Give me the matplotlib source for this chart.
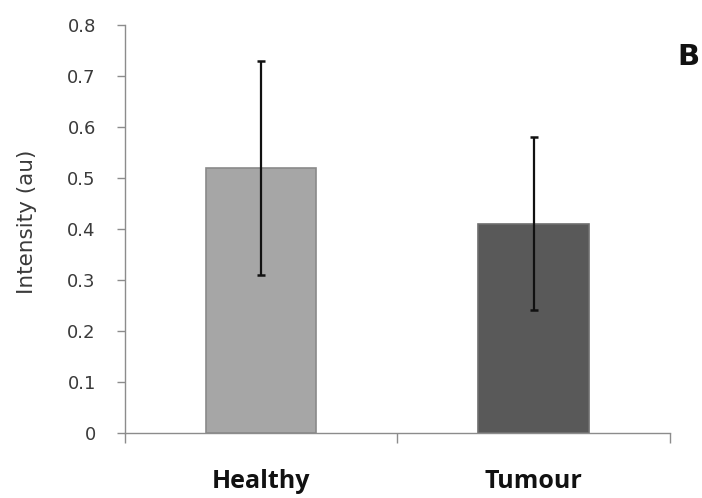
import matplotlib
matplotlib.use("Agg")
import matplotlib.pyplot as plt

groups = ["Healthy", "Tumour"]
means = [0.52, 0.41]
errors = [0.21, 0.17]
yticks = [0, 0.1, 0.2, 0.3, 0.4, 0.5, 0.6, 0.7, 0.8]

bar_colors = ["#a6a6a6", "#595959"]
edge_colors = ["#8a8a8a", "#6e6e6e"]
axis_grey = "#8c8c8c"
text_grey = "#3a3a3a"

plt.rcParams["font.family"] = ["DejaVu Sans"]

fig = plt.figure(figsize=(7.02, 4.98), dpi=100)
ax = fig.add_axes([0.178, 0.131, 0.776, 0.819])

xs = list(range(len(groups)))
ax.bar(xs, means, width=0.405, color=bar_colors, edgecolor=edge_colors,
       linewidth=1.2, zorder=2)
ax.errorbar(xs, means, yerr=errors, fmt="none", ecolor="#111111",
            elinewidth=1.6, capsize=3.2, capthick=1.8, zorder=3)

ax.set_xlim(-0.5, 1.5)
ax.set_ylim(0, 0.8)

ax.set_yticks(yticks)
ax.set_yticklabels(["0" if v == 0 else f"{v:.1f}" for v in yticks])
ax.tick_params(axis="y", length=6, width=1, color=axis_grey,
               labelsize=13, labelcolor=text_grey, pad=15)

# category labels without marks, boundary marks as minor ticks
ax.set_xticks(xs)
ax.set_xticklabels(groups, fontsize=18, fontweight="bold",
                   family=["Open Sans", "DejaVu Sans"])
ax.tick_params(axis="x", which="major", length=0, pad=26,
               labelcolor="#111111")
ax.set_xticks([-0.5, 0.5, 1.5], minor=True)
ax.tick_params(axis="x", which="minor", length=7.5, width=1,
               color=axis_grey)

for side in ["top", "right"]:
    ax.spines[side].set_visible(False)
for side in ["left", "bottom"]:
    ax.spines[side].set_color(axis_grey)
    ax.spines[side].set_linewidth(1)

ax.set_ylabel("Intensity (au)", fontsize=15.5, color=text_grey)
ax.yaxis.set_label_coords(-0.1615, 0.517)

fig.text(688 / 702, 1 - 57 / 498, "B", fontsize=21, fontweight="bold",
         ha="center", va="center", color="#111111")

fig.savefig("out.png", dpi=100, facecolor="white")
